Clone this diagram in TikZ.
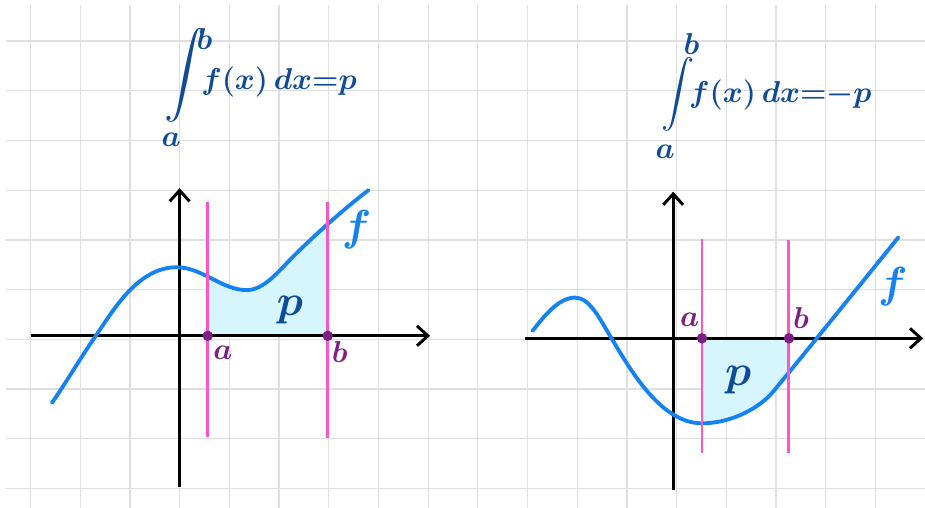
\documentclass[tikz,border=0pt]{standalone}
\usepackage{amsmath}
\usepackage{tikz}
\usetikzlibrary{arrows.meta,positioning}

\definecolor{curveblue}{RGB}{20,130,240}
\definecolor{boundpink}{RGB}{255,85,200}
\definecolor{dotpurple}{RGB}{125,30,130}
\definecolor{areacyan}{RGB}{215,245,252}
\definecolor{inkblue}{RGB}{15,75,150}

\begin{document}
\begin{tikzpicture}[scale=1,
  gridline/.style={gray!25, line width=0.7pt},
  axis/.style={line width=1.7pt, -{Straight Barb[length=2.2mm, width=4mm, line width=1.7pt]}},
  bound/.style={boundpink, line width=1.7pt},
  curve/.style={curveblue, line width=2.2pt, line cap=round},
  area/.style={fill=areacyan},
  dot/.style={circle, fill=dotpurple, inner sep=0pt, minimum size=6pt},
  lbl/.style={font=\fontsize{19}{21}\selectfont\boldmath, inner sep=1pt},
  big/.style={font=\fontsize{25}{27}\selectfont\boldmath, inner sep=1pt},
  formula/.style={inkblue, font=\fontsize{17}{20}\selectfont\boldmath, inner sep=0pt, anchor=base east},
  limit/.style={inkblue, font=\fontsize{17}{20}\selectfont\boldmath, inner sep=0pt}]
  \useasboundingbox (-3.614,-3.394) rectangle (14.997,6.827);

  % Quadrillage
  \draw[gridline] (-3.49,-3.394) grid (15.1,6.73);

  % Formules
  \node[formula] (int1) at (3.57,5.02) {\raisebox{2pt}[0pt][0pt]{\scalebox{1.4}{$\displaystyle\int$}}$\!f(x)\,dx{=}p$};
  \node[limit] (lo1) at (-0.17,4.02) {$a$};
  \node[limit] (hi1) at (0.50,6.05) {$b$};
  \node[formula] (int2) at (13.93,4.77) {\scalebox{1.1}{$\displaystyle\int$}$\!f(x)\,dx{=}{-}p$};
  \node[limit] (lo2) at (9.77,3.77) {$a$};
  \node[limit] (hi2) at (10.30,5.95) {$b$};

  % Graphe de gauche : aire positive
  \begin{scope}
    \clip (0.565,0.07) rectangle (2.98,4);
    \fill[area] (-0.06,1.45) .. controls (0.45,1.45) and (0.85,0.99) .. (1.35,0.99)
      .. controls (1.70,0.99) and (2.00,1.38) .. (2.30,1.68)
      .. controls (2.75,2.13) and (3.40,2.70) .. (3.80,3.00) -- (3.80,0.07) -- (-0.06,0.07) -- cycle;
  \end{scope}
  \coordinate (xL1) at (-3,0.07);
  \coordinate (xR1) at (5.04,0.07);
  \coordinate (yB1) at (0,-2.97);
  \coordinate (yT1) at (0,3.04);
  \draw[axis] (xL1) -- (xR1);
  \draw[axis] (yB1) -- (yT1);
  \draw[curve] (-2.57,-1.28) .. controls (-2.27,-0.85) and (-2.00,-0.38) .. (-1.70,0.05)
    .. controls (-1.36,0.54) and (-0.86,1.45) .. (-0.06,1.45)
    .. controls (0.45,1.45) and (0.85,0.99) .. (1.35,0.99)
    .. controls (1.70,0.99) and (2.00,1.38) .. (2.30,1.68)
    .. controls (2.75,2.13) and (3.40,2.70) .. (3.80,3.00);
  \coordinate (aT1) at (0.565,2.77);
  \coordinate (aB1) at (0.565,-1.96);
  \coordinate (bT1) at (2.98,2.77);
  \coordinate (bB1) at (2.98,-1.98);
  \draw[bound] (aT1) -- (aB1);
  \draw[bound] (bT1) -- (bB1);
  \node[dot] (A1) at (0.565,0.07) {};
  \node[dot] (B1) at (2.98,0.07) {};
  \node[lbl, dotpurple] (la1) at (0.87,-0.27) {$a$};
  \node[lbl, dotpurple] (lb1) at (3.22,-0.25) {$b$};
  \node[big, inkblue] (p1) at (2.22,0.59) {$p$};
  \node[big, curveblue] (f1) at (3.56,2.20) {$f$};

  % Graphe de droite : aire negative
  \begin{scope}
    \clip (10.51,0.02) rectangle (12.26,-3);
    \fill[area] (9.70,-1.69) -- (10.51,-1.69) .. controls (11.06,-1.69) and (11.61,-1.42) .. (11.91,-1.09)
      .. controls (12.42,-0.48) and (13.96,1.43) .. (14.46,2.05) -- (14.46,0.02) -- (9.70,0.02) -- cycle;
  \end{scope}
  \coordinate (xL2) at (6.95,0.02);
  \coordinate (xR2) at (14.96,0.02);
  \coordinate (yB2) at (9.93,-3.03);
  \coordinate (yT2) at (9.93,2.97);
  \draw[axis] (xL2) -- (xR2);
  \draw[axis] (yB2) -- (yT2);
  \draw[curve] (7.10,0.17) .. controls (7.32,0.44) and (7.61,0.84) .. (7.96,0.84)
    .. controls (8.26,0.84) and (8.48,0.36) .. (8.69,0.02)
    .. controls (9.10,-0.67) and (9.70,-1.69) .. (10.51,-1.69)
    .. controls (11.06,-1.69) and (11.61,-1.42) .. (11.91,-1.09)
    .. controls (12.42,-0.48) and (13.96,1.43) .. (14.46,2.05);
  \coordinate (aT2) at (10.51,2.01);
  \coordinate (aB2) at (10.51,-2.28);
  \coordinate (bT2) at (12.26,1.99);
  \coordinate (bB2) at (12.26,-2.28);
  \draw[bound] (aT2) -- (aB2);
  \draw[bound] (bT2) -- (bB2);
  \node[dot] (A2) at (10.51,0.02) {};
  \node[dot] (B2) at (12.26,0.02) {};
  \node[lbl, dotpurple] (la2) at (10.26,0.39) {$a$};
  \node[lbl, dotpurple] (lb2) at (12.50,0.42) {$b$};
  \node[big, inkblue] (p2) at (11.24,-0.82) {$p$};
  \node[big, curveblue] (f2) at (14.35,1.06) {$f$};
\end{tikzpicture}
\end{document}
